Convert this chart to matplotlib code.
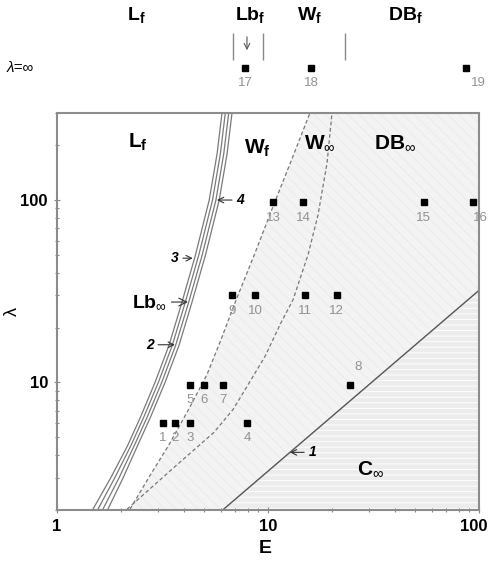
import matplotlib
matplotlib.use('Agg')
import matplotlib.pyplot as plt
import matplotlib.transforms as mtransforms
from matplotlib.ticker import LogLocator, NullFormatter, FixedFormatter, FixedLocator

plt.rcParams['font.family'] = ['Liberation Sans', 'DejaVu Sans']
plt.rcParams['mathtext.fontset'] = 'custom'
plt.rcParams['mathtext.rm'] = 'Liberation Sans'
plt.rcParams['mathtext.bf'] = 'Liberation Sans:bold'
plt.rcParams['mathtext.it'] = 'Liberation Sans:italic'
plt.rcParams['hatch.linewidth'] = 0.7

# measured points (E, lambda) and their numbers
pt_E = [3.18, 3.62, 4.27, 7.95, 4.27, 4.97, 6.12, 24.5, 6.75, 8.68, 15.0, 21.2, 10.6, 14.7, 54.8, 93.7]
pt_lam = [6, 6, 6, 6, 9.7, 9.7, 9.7, 9.7, 30, 30, 30, 30, 97, 97, 97, 97]
pt_id = [str(i) for i in range(1, 17)]

# lambda = infinity row
inf_E = [7.8, 16.0, 86.7]
inf_id = ['17', '18', '19']
inf_sep_E = [6.8, 9.5, 23.2]

# solid Lb boundaries (bundle of four curves)
lam_lb = [2, 3, 4.5, 6.5, 10, 16, 27, 50, 100, 180, 300]
E_lb_inf = [1.473, 1.797, 2.159, 2.493, 2.914, 3.395, 3.891, 4.532, 5.265, 5.740, 6.053]
E_lb_2 = [1.556, 1.878, 2.238, 2.584, 3.021, 3.519, 4.035, 4.699, 5.458, 5.949, 6.275]
E_lb_3 = [1.643, 1.967, 2.322, 2.682, 3.135, 3.651, 4.187, 4.877, 5.664, 6.173, 6.512]
E_lb_4 = [1.735, 2.057, 2.407, 2.781, 3.250, 3.787, 4.340, 5.056, 5.872, 6.402, 6.751]

# dashed W_f boundary
lam_wf = [2.02, 3.03, 4.47, 7.03, 11.06, 17.2, 27.4, 51.3, 89.3, 163, 300]
E_wf = [2.218, 2.73, 3.36, 4.18, 5.14, 5.99, 6.98, 8.68, 10.45, 12.85, 15.8]

# dashed W_inf boundary
lam_winf = [2.02, 3.66, 5.33, 7.11, 9.51, 13.9, 21.3, 28.4, 50.0, 82.8, 159, 300]
E_winf = [2.147, 3.828, 5.548, 6.826, 7.953, 9.68, 11.53, 13.14, 15.47, 17.26, 19.04, 20.11]

# C boundary (line 1)
E_c = [6.1, 100]
lam_c = [2, 32]

W, H = 490, 562
fig = plt.figure(figsize=(W / 100, H / 100), dpi=100)
L, R, T, B = 57, 479, 113, 510
ax = fig.add_axes([L / W, 1 - B / H, (R - L) / W, (B - T) / H])
ax.set_xscale('log')
ax.set_yscale('log')
ax.set_xlim(1, 100)
ax.set_ylim(2, 300)

# shaded regions
ax.fill_betweenx(lam_wf, E_wf, 100, facecolor='#f3f3f3', edgecolor='#ebebeb',
                 hatch='\\\\\\', lw=0, zorder=0)
ax.fill_between(E_c, lam_c, 2, facecolor='#ececec', edgecolor='white',
                hatch='---', lw=0, zorder=0.5)

for E in [E_lb_inf, E_lb_2, E_lb_3, E_lb_4]:
    ax.plot(E, lam_lb, color='#7a7a7a', lw=0.9, zorder=2)
ax.plot(E_wf, lam_wf, color='#777777', lw=0.9, ls=(0, (3, 2)), zorder=2)
ax.plot(E_winf, lam_winf, color='#777777', lw=0.9, ls=(0, (3, 2)), zorder=2)
ax.plot(E_c, lam_c, color='#555555', lw=1.0, zorder=2)

ax.plot(pt_E, pt_lam, 's', color='black', ms=5, zorder=3)
for e, l, s in zip(pt_E, pt_lam, pt_id):
    off = (0, -11)
    if s == '8':
        off = (6, 13)
    elif s == '16':
        off = (5, -11)
    ax.annotate(s, (e, l), xytext=off, textcoords='offset points',
                ha='center', va='center', fontsize=9.5, color='#919191')

# region labels
lab = dict(fontsize=15, fontweight='bold', ha='center', va='center')
ax.text(2.42, 207, r'L$_\mathbf{f}$', **lab)
ax.text(8.87, 192, r'W$_\mathbf{f}$', **lab)
ax.text(17.6, 205, r'W$_\infty$', **lab)
ax.text(40, 205, r'DB$_\infty$', **lab)
ax.text(30.5, 3.35, r'C$_\infty$', **lab)

arr = dict(arrowstyle='->', lw=0.8, color='#333333', shrinkA=1, shrinkB=0)
ax.annotate(r'Lb$_\infty$', (4.17, 27.6), xytext=(2.75, 27.6), fontsize=14,
            fontweight='bold', ha='center', va='center', arrowprops=arr)
num = dict(fontsize=10, fontweight='bold', style='italic', ha='center', va='center',
           arrowprops=arr)
ax.annotate('2', (3.62, 16.1), xytext=(2.76, 16.1), **num)
ax.annotate('3', (4.4, 48), xytext=(3.62, 48), **num)
ax.annotate('4', (5.73, 100), xytext=(7.37, 100), **num)
ax.annotate('1', (12.7, 4.14), xytext=(16.2, 4.14), **num)

for sp in ax.spines.values():
    sp.set_color('#8c8c8c')
    sp.set_linewidth(1.5)
ax.xaxis.set_major_locator(FixedLocator([1, 10, 100]))
ax.xaxis.set_major_formatter(FixedFormatter(['1', '10', '100']))
ax.yaxis.set_major_locator(FixedLocator([10, 100]))
ax.yaxis.set_major_formatter(FixedFormatter(['10', '100']))
for a in (ax.xaxis, ax.yaxis):
    a.set_minor_locator(LogLocator(base=10, subs=range(2, 10)))
    a.set_minor_formatter(NullFormatter())
ax.tick_params(which='both', direction='inout', color='#888888', width=0.8)
ax.tick_params(which='major', length=5, labelsize=12, pad=4)
ax.tick_params(which='minor', length=3)
for t in ax.get_xticklabels() + ax.get_yticklabels():
    t.set_fontweight('bold')
last = ax.get_xticklabels()[-1]
last.set_transform(last.get_transform() +
                   mtransforms.ScaledTranslation(-4 / 72, 0, fig.dpi_scale_trans))
ax.set_xlabel('E', fontsize=14, fontweight='bold')
ax.xaxis.set_label_coords(0.493, -0.075)
ax.set_ylabel('λ', fontsize=13)
ax.yaxis.set_label_coords(-0.085, 0.5)

# top strip: lambda = infinity
top = fig.add_axes([L / W, 1 - 105 / H, (R - L) / W, 105 / H])
top.set_xscale('log')
top.set_xlim(1, 100)
top.set_ylim(105, 0)
top.axis('off')
top.plot(inf_E, [68] * len(inf_E), 's', color='black', ms=4.5)
for e, s in zip(inf_E, inf_id):
    dx = 9 if s == '19' else 0
    top.annotate(s, (e, 68), xytext=(dx, -11), textcoords='offset points',
                 ha='center', va='center', fontsize=9.5, color='#919191')
top.vlines(inf_sep_E, 33, 60, color='#888888', lw=1)
top.annotate('', (7.95, 53), xytext=(7.95, 34),
             arrowprops=dict(arrowstyle='->', lw=0.8, color='#555555'))
tl = dict(fontsize=14, fontweight='bold', ha='center', va='center')
top.text(2.39, 15, r'L$_\mathbf{f}$', **tl)
top.text(8.22, 15, r'Lb$_\mathbf{f}$', **tl)
top.text(15.8, 15, r'W$_\mathbf{f}$', **tl)
top.text(44.6, 15, r'DB$_\mathbf{f}$', **tl)
fig.text(20 / W, 1 - 68 / H, 'λ=∞', fontsize=11, style='italic', ha='center', va='center')

fig.savefig('out.png', dpi=100)
